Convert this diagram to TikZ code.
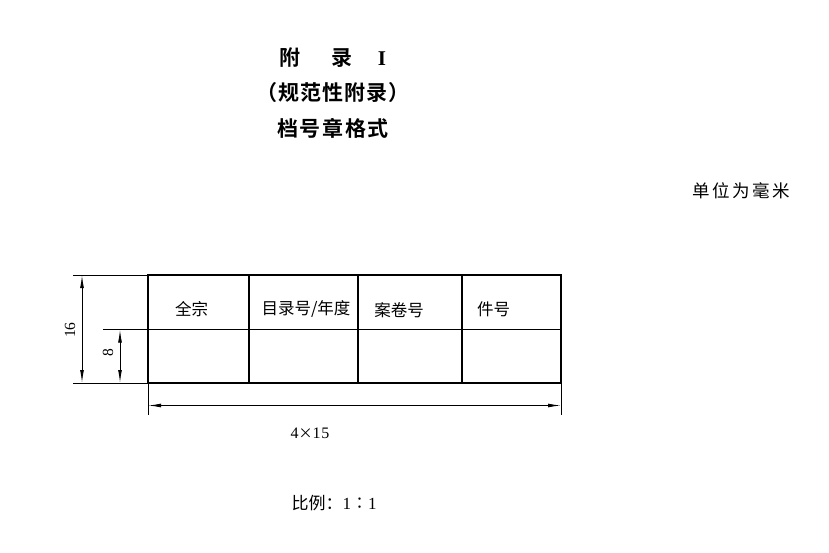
\documentclass[tikz,border=0pt]{standalone}
\usepackage{fontspec}
\newfontfamily\cjk{Noto Sans CJK SC}
\newfontfamily\cjkb{Noto Sans CJK SC Bold}
\setmainfont{Liberation Serif}
\usetikzlibrary{arrows.meta}
\begin{document}
\begin{tikzpicture}[x=1pt,y=-1pt,
  tbl/.style={line width=1.8pt},
  dimline/.style={line width=0.9pt},
  dimarrow/.style={line width=0.9pt,{Latex[length=13pt,width=3.8pt]}-{Latex[length=13pt,width=3.8pt]}},
  celltxt/.style={font=\cjk\fontsize{16.5}{18}\selectfont,inner sep=0pt},
  ttl/.style={font=\cjkb\fontsize{21}{24}\selectfont,inner sep=0pt},
  num/.style={font=\fontsize{15.5}{17}\selectfont,inner sep=0pt}]
\useasboundingbox (0,0) rectangle (829,553);
\fill[white] (0,0) rectangle (829,553);
% titles
\node[ttl] (t1) at (333,58) {附\hspace{31pt}录\hspace{25pt}{\fontsize{21}{24}\rmfamily\bfseries I}};
\node[ttl,font=\cjkb\fontsize{21}{24}\selectfont\addfontfeature{LetterSpace=5}] (t2) at (333,93) {（规范性附录）};
\node[ttl,font=\cjkb\fontsize{21}{24}\selectfont\addfontfeature{LetterSpace=8}] (t3) at (333,128) {档号章格式};
\node[inner sep=0pt,font=\cjk\fontsize{17.5}{20}\selectfont\addfontfeature{LetterSpace=15}] (unit) at (741,191) {单位为毫米};
% table coordinates
\coordinate (tl) at (148,275);
\coordinate (tr) at (561,275);
\coordinate (ml) at (148,329.5);
\coordinate (mr) at (561,329.5);
\coordinate (bl) at (148,383);
\coordinate (br) at (561,383);
\coordinate (c1t) at (249,275); \coordinate (c1b) at (249,383);
\coordinate (c2t) at (358,275); \coordinate (c2b) at (358,383);
\coordinate (c3t) at (462,275); \coordinate (c3b) at (462,383);
\draw[tbl] (tl) rectangle (br);
\draw[tbl] (ml) -- (mr);
\draw[tbl] (c1t) -- (c1b);
\draw[tbl] (c2t) -- (c2b);
\draw[tbl] (c3t) -- (c3b);
\node[celltxt] (h1) at (191.5,309.5) {全宗};
\node[celltxt] (h2) at (306,309.5) {目录号/年度};
\node[celltxt] (h3) at (399,310.5) {案卷号};
\node[celltxt] (h4) at (493.5,309.5) {件号};
% extension lines
\coordinate (e16t) at (73,275);
\coordinate (e16b) at (73,383);
\coordinate (e8t) at (103,329.5);
\draw[dimline] (e16t) -- (tl);
\draw[dimline] (e16b) -- (bl);
\draw[dimline] (e8t) -- (ml);
\coordinate (exl) at (148,415);
\coordinate (exr) at (561,415);
\draw[dimline] (bl) -- (exl);
\draw[dimline] (br) -- (exr);
% dimension lines
\coordinate (d16t) at (82,275); \coordinate (d16b) at (82,383);
\coordinate (d8t) at (120,329.5); \coordinate (d8b) at (120,383);
\coordinate (dwl) at (148,405.5); \coordinate (dwr) at (561,405.5);
\draw[dimarrow] (d16t) -- (d16b);
\draw[dimarrow] (d8t) -- (d8b);
\draw[dimarrow] (dwl) -- (dwr);
\node[num,rotate=90] (l16) at (70,330) {16};
\node[num,rotate=90] (l8) at (108,353) {8};
\node[num,font=\fontsize{16}{18}\selectfont] (lw) at (310,433) {4{\cjk\fontsize{14}{16}\selectfont ×}1\kern1pt5};
\node[inner sep=0pt,font=\cjk\fontsize{17}{20}\selectfont] (scale) at (334,503) {比例：{\rmfamily 1}∶{\rmfamily 1}};
\end{tikzpicture}
\end{document}
